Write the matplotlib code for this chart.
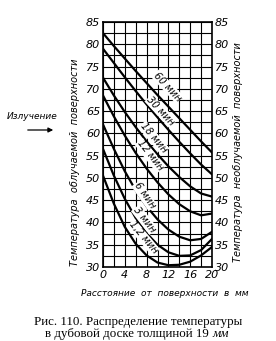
import numpy as np
import matplotlib.pyplot as plt
from matplotlib.patches import FancyArrowPatch

# distance from irradiated surface, mm
x = [0, 2, 4, 6, 8, 10, 12, 14, 16, 18, 20]

# temperature curves for each exposure time
t60 = [82.5, 79.6, 76.8, 74.0, 71.3, 68.6, 66.0, 63.4, 60.8, 58.2, 55.7]
t30 = [79.0, 75.8, 72.6, 69.5, 66.5, 63.6, 60.8, 58.1, 55.5, 53.0, 50.8]
t18 = [72.5, 68.5, 64.8, 61.4, 58.2, 55.3, 52.6, 50.2, 48.1, 46.5, 45.8]
t12 = [68.5, 63.8, 59.5, 55.6, 52.1, 49.0, 46.3, 44.1, 42.5, 41.6, 42.0]
t6 = [62.0, 56.5, 51.5, 47.2, 43.6, 40.7, 38.4, 36.8, 36.0, 36.3, 37.9]
t3 = [56.5, 50.5, 45.3, 41.0, 37.6, 35.0, 33.3, 32.5, 32.6, 33.8, 36.3]
t1 = [50.5, 44.2, 39.0, 35.2, 32.6, 31.0, 30.4, 30.5, 31.2, 32.6, 34.5]

curves = [t60, t30, t18, t12, t6, t3, t1]
names = ["60 мин", "30 мин", "18 мин", "12 мин", "6 мин", "3 мин", "1,2 мин"]
# label placement (x, y, rotation)
lab_pos = [(11.8, 70.5, -47), (10.6, 65.0, -47), (9.3, 59.0, -50),
           (8.6, 55.0, -52), (7.6, 46.0, -55), (7.6, 40.6, -52), (7.4, 36.6, -50)]

yticks = [30, 35, 40, 45, 50, 55, 60, 65, 70, 75, 80, 85]
xticks = [0, 4, 8, 12, 16, 20]

narrow = ['Liberation Sans Narrow', 'DejaVu Sans']

fig = plt.figure(figsize=(2.76, 3.41), dpi=100)
ax = fig.add_axes([103/276, 1 - 267/341, 109/276, 245/341])

# grid
for gx in np.arange(0, 21, 2):
    ax.axvline(gx, color='black', lw=0.8, zorder=1)
for gy in np.arange(30, 85.1, 2.5):
    ax.axhline(gy, color='black', lw=0.8, zorder=1)

for c in curves:
    ax.plot(x, c, color='black', lw=1.6, zorder=3)

for (lx, ly, rot), n in zip(lab_pos, names):
    ax.text(lx, ly, n, rotation=rot, ha='center', va='center', fontsize=7,
            style='italic', family=narrow, zorder=4,
            bbox=dict(facecolor='white', edgecolor='none', pad=0.3))

ax.set_xlim(0, 20)
ax.set_ylim(30, 85)
ax.set_xticks(xticks)
ax.set_yticks(yticks)
ax.tick_params(length=0, pad=2, labelsize=8, right=True, labelright=True)
for lab in ax.get_xticklabels() + ax.get_yticklabels():
    lab.set_style('italic')
    lab.set_family(narrow)
for s in ax.spines.values():
    s.set_linewidth(1.2)

fig.text(75/276, 1 - 162/341, "Температура  облучаемой  поверхности", rotation=90,
         ha='center', va='center', fontsize=7, style='italic', family=narrow)
fig.text(238/276, 1 - 152/341, "Температура  необлучаемой  поверхности", rotation=90,
         ha='center', va='center', fontsize=7, style='italic', family=narrow)
fig.text(165/276, 1 - 293/341, "Расстояние  от  поверхности  в  мм",
         ha='center', va='center', fontsize=6.5, style='italic', family=narrow)

fig.text(32/276, 1 - 117/341, "Излучение", ha='center', va='center',
         fontsize=6.5, style='italic', family=narrow)
fig.patches.append(FancyArrowPatch(
    (25/276, 1 - 130/341), (56/276, 1 - 130/341), transform=fig.transFigure,
    arrowstyle='-|>', mutation_scale=7, lw=0.9, color='black'))

fig.text(138/276, 1 - 322/341, "Рис. 110. Распределение температуры",
         ha='center', va='center', fontsize=9.3, family='Liberation Serif')
t_a = fig.text(45/276, 1 - 334/341, "в дубовой доске толщиной 19 ",
               ha='left', va='center', fontsize=9.3, family='Liberation Serif')
fig.canvas.draw()
bb = t_a.get_window_extent(renderer=fig.canvas.get_renderer())
fig.text(bb.x1 / fig.bbox.width, 1 - 334/341, "мм", ha='left', va='center',
         fontsize=9.3, style='italic', family='Liberation Serif')

fig.savefig("out.png", dpi=100)
